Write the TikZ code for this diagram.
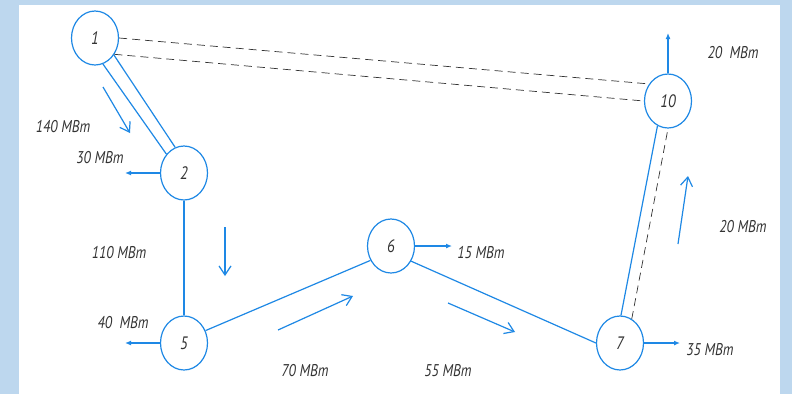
\documentclass[tikz,border=0pt]{standalone}
\usepackage{fontspec}
\usepackage{tikz}
\usetikzlibrary{arrows.meta,shapes.geometric}
\newfontfamily\gostfont{PT Sans}[FakeStretch=0.82]
\definecolor{lineblue}{RGB}{30,136,229}
\definecolor{frameblue}{RGB}{189,215,238}
\tikzstyle{bus}=[ellipse, draw=lineblue, line width=1.2pt, minimum width=47pt, minimum height=54pt, inner sep=0pt, text=black!80, font=\gostfont\itshape\fontsize{18}{18}\selectfont]
\tikzstyle{line}=[draw=lineblue, line width=1.2pt]
\tikzstyle{reserve}=[draw=black!80, dash pattern=on 8pt off 5pt, line width=0.7pt]
\tikzstyle{load}=[draw=lineblue, line width=1.2pt, -{Latex[length=6pt,width=5pt]}]
\tikzstyle{flow}=[draw=lineblue, line width=1.2pt, -{Straight Barb[length=9pt,width=12pt]}]
\tikzstyle{power}=[inner sep=0pt, text=black!80, font=\gostfont\itshape\fontsize{17}{17}\selectfont]

\begin{document}
\begin{tikzpicture}[x=1pt, y=-1pt]
                    % frame
                    \fill[frameblue] (0,0) rectangle (792,394);
                    \fill[white] (19,5) rectangle (780,394);
                    % buses
                    \node[bus] (n1)  at (95, 38)  {1};
                    \node[bus] (n2)  at (184, 173) {2};
                    \node[bus] (n5)  at (184, 343) {5};
                    \node[bus] (n6)  at (391, 246) {6};
                    \node[bus] (n7)  at (620, 343) {7};
                    \node[bus] (n10) at (668, 101) {10};
                    % lines
                    \draw[line]    (n1.-42) -- (n2.109);
                    \draw[line]    (n1.-73) -- (n2.133);
                    \draw[line]    (n2) -- (n5);
                    \draw[line]    (n5.30) -- (n6.215);
                    \draw[line]    (n6.-37) -- (n7.west);
                    \draw[line]    (n7.88) -- (n10.247);
                    \draw[reserve] (n1.east) -- (n10.138);
                    \draw[reserve] (n1.-40) -- (n10.west);
                    \draw[reserve] (n7.64) -- (n10.south);
                    % loads
                    \coordinate (o2)  at (125, 173);
                    \coordinate (o5)  at (125, 343);
                    \coordinate (o6)  at (452, 246);
                    \coordinate (o7)  at (680, 343);
                    \coordinate (o10) at (668, 33);
                    \draw[load] (n2.west)  -- (o2);
                    \draw[load] (n5.west)  -- (o5);
                    \draw[load] (n6.east)  -- (o6);
                    \draw[load] (n7.east)  -- (o7);
                    \draw[load] (n10.north) -- (o10);
                    % power flows
                    \draw[flow] (103, 87)  -- (130, 133);
                    \draw[flow] (225, 227) -- (225, 276);
                    \draw[flow] (278, 330) -- (353, 296);
                    \draw[flow] (448, 303) -- (515, 332);
                    \draw[flow] (678, 244) -- (688, 176);
                    \node[power] (p12)  at (63, 127)  {140 МВт};
                    \node[power] (p2)   at (100, 158) {30 МВт};
                    \node[power] (p25)  at (119, 253) {110 МВт};
                    \node[power] (p5)   at (123, 323) {40\ \ МВт};
                    \node[power] (p56)  at (305, 371) {70 МВт};
                    \node[power] (p6)   at (481, 253) {15 МВт};
                    \node[power] (p67)  at (448, 371) {55 МВт};
                    \node[power] (p7)   at (710, 350) {35 МВт};
                    \node[power] (p710) at (743, 227) {20 МВт};
                    \node[power] (p10)  at (733, 53)  {20\ \ МВт};
                \end{tikzpicture}
\end{document}
